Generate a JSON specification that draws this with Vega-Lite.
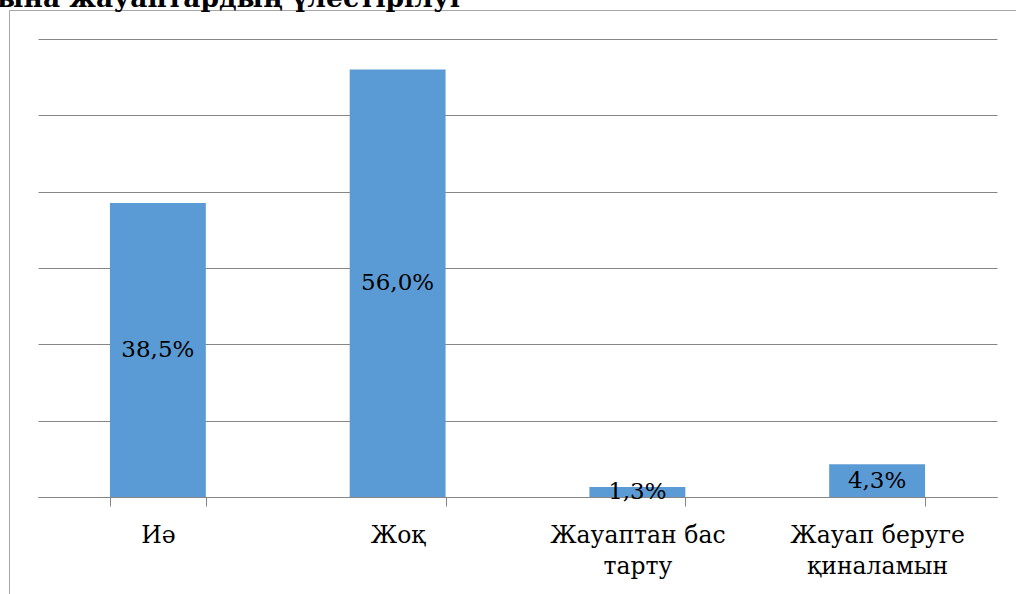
{
  "$schema": "https://vega.github.io/schema/vega-lite/v6.json",
  "autosize": {"type": "none"},
  "padding": {"left": 9, "top": 10, "right": 0, "bottom": 0},
  "width": 1012,
  "height": 600,
  "background": "white",
  "config": {
    "view": {"stroke": "#a6a6a6", "strokeWidth": 1}
  },
  "title": {
    "text": "ына жауаптардың үлестірілуі",
    "anchor": "start",
    "font": "DejaVu Serif",
    "fontSize": 26.5,
    "fontWeight": "bold",
    "color": "black",
    "baseline": "alphabetic",
    "offset": -23,
    "dx": -12
  },
  "data": {
    "values": [
      {"category": "Иә", "value": 38.5},
      {"category": "Жоқ", "value": 56.0},
      {"category": "Жауаптан бас тарту", "value": 1.3},
      {"category": "Жауап беруге қиналамын", "value": 4.3}
    ]
  },
  "transform": [
    {"calculate": "replace(format(datum.value, '.1f'), '.', ',') + '%'", "as": "label"},
    {"calculate": "datum.value / 2", "as": "mid"}
  ],
  "encoding": {
    "x": {
      "field": "category",
      "type": "nominal",
      "sort": null,
      "scale": {"range": [29, 988], "paddingInner": 0.6, "paddingOuter": 0.3},
      "axis": {
        "title": null,
        "offset": -113,
        "labelAngle": 0,
        "labelFont": "DejaVu Serif",
        "labelFontSize": 23.5,
        "labelColor": "black",
        "labelLineHeight": 31,
        "labelPadding": 17,
        "labelExpr": "datum.value == 'Жауаптан бас тарту' ? ['Жауаптан бас', 'тарту'] : datum.value == 'Жауап беруге қиналамын' ? ['Жауап беруге', 'қиналамын'] : datum.value",
        "tickBand": "extent",
        "tickSize": 9,
        "tickColor": "#868686",
        "domainColor": "#868686",
        "labelLimit": 300
      }
    }
  },
  "layer": [
    {
      "mark": {"type": "bar", "color": "#5b9bd5"},
      "encoding": {
        "y": {
          "field": "value",
          "type": "quantitative",
          "scale": {"domain": [0, 60], "range": [487, 29], "nice": false},
          "axis": {
            "title": null,
            "values": [0, 10, 20, 30, 40, 50, 60],
            "labels": false,
            "ticks": false,
            "domain": false,
            "grid": true,
            "gridColor": "#868686",
            "gridWidth": 1
          }
        }
      }
    },
    {
      "mark": {"type": "text", "font": "DejaVu Serif", "fontSize": 23, "color": "black", "baseline": "middle", "align": "center"},
      "encoding": {
        "y": {"field": "mid", "type": "quantitative"},
        "text": {"field": "label"}
      }
    }
  ]
}
